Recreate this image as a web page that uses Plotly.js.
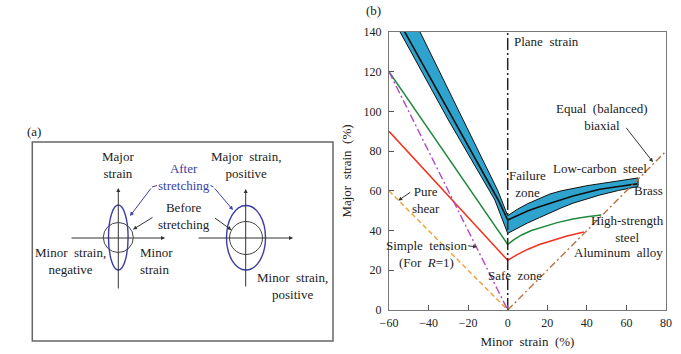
<!DOCTYPE html>
<html>
<head>
<meta charset="utf-8">
<script src="https://cdn.plot.ly/plotly-3.0.1.min.js"></script>
<style>html,body{margin:0;padding:0;background:#fff}</style>
</head>
<body>
<div id="chart" style="width:681px;height:354px"></div>
<script>
// ---------------- data: forming limit diagram (b) ----------------
const xTicks = [-60, -40, -20, 0, 20, 40, 60, 80];
const yTicks = [0, 20, 40, 60, 80, 100, 120, 140];

// Low-carbon steel band (upper and lower edges)
const lcsUpperX = [-49.2, -44.3, -22.5, -5.0, 0, 5, 10, 16, 21.3, 27, 33, 40, 46.6, 56, 65.9];
const lcsUpperY = [150, 140, 95.7, 60.1, 47.5, 50.8, 53.5, 56.2, 58.4, 60.0, 61.3, 62.6, 63.6, 65.0, 66.5];
const lcsLowerX = [-59.7, -54.4, -30, -6.5, 0, 5, 10, 16, 21.3, 27, 33, 40, 46.6, 56, 65.9];
const lcsLowerY = [150, 140, 95.7, 55.4, 38.6, 41.3, 43.8, 46.5, 48.7, 51.4, 53.8, 56.0, 57.9, 60.2, 62.2];

// Brass
const brassX = [-57.6, -52, -27.4, -4.8, 0, 5, 10, 16, 21.3, 27, 33, 40, 46.6, 56, 65.5];
const brassY = [150, 140, 95.7, 55.4, 45.3, 47.6, 49.8, 52.0, 53.7, 55.6, 57.4, 59.2, 60.8, 62.2, 63.5];

// High-strength steel
const hssX = [-60, 0, 3, 7, 12, 18, 25, 33, 40, 47.3];
const hssY = [120, 33, 35.3, 37.8, 40.0, 42.0, 44.0, 45.8, 47.0, 47.8];

// Aluminum alloy
const alX = [-60, 0, 5, 10, 16, 23, 30, 38.5];
const alY = [90, 25, 28.0, 30.5, 33.0, 35.3, 37.3, 39.3];

// Strain paths
const shearX = [-60, 0],   shearY = [60, 0];     // pure shear
const tensionX = [-60, 0], tensionY = [120, 0];  // simple tension (R=1)
const biaxialX = [0, 80],  biaxialY = [0, 80];   // equal biaxial
const planeX = [0, 0],     planeY = [0, 140];    // plane strain

// ---------------- traces ----------------
const bandX = lcsUpperX.concat(lcsLowerX.slice().reverse());
const bandY = lcsUpperY.concat(lcsLowerY.slice().reverse());

const traces = [
  {x: bandX, y: bandY, type: 'scatter', mode: 'lines', fill: 'toself',
   fillcolor: '#2ea3cd', line: {color: '#111', width: 1}, hoverinfo: 'skip'},
  {x: brassX, y: brassY, type: 'scatter', mode: 'lines', line: {color: '#111', width: 1.6}},
  {x: hssX, y: hssY, type: 'scatter', mode: 'lines', line: {color: '#1f8a3c', width: 1.5}},
  {x: alX, y: alY, type: 'scatter', mode: 'lines', line: {color: '#f2321e', width: 1.5}},
  {x: shearX, y: shearY, type: 'scatter', mode: 'lines', line: {color: '#f0a035', width: 1.4, dash: '5px,3px'}},
  {x: tensionX, y: tensionY, type: 'scatter', mode: 'lines', line: {color: '#b04ac4', width: 1.4, dash: '8px,3px,2px,3px'}},
  {x: biaxialX, y: biaxialY, type: 'scatter', mode: 'lines', line: {color: '#b8703e', width: 1.4, dash: '7px,3px,2px,3px'}},
  {x: planeX, y: planeY, type: 'scatter', mode: 'lines', line: {color: '#222', width: 1.5, dash: '12px,3px,2px,3px'}}
];

// ---------------- annotations ----------------
const SP = '\u00a0 ';
function lab(x, y, text, extra) {
  return Object.assign({x: x, y: y, xref: 'x', yref: 'y', text: text, showarrow: false,
    xanchor: 'center', yanchor: 'middle', align: 'center', font: {size: 13, color: '#222'}}, extra || {});
}
function labA(x, y, text, extra) {
  return lab(x, y, text, Object.assign({xref: 'x2', yref: 'y2'}, extra || {}));
}
function arrowB(x0, y0, x1, y1) {
  return {x: x1, y: y1, ax: x0, ay: y0, xref: 'x', yref: 'y', axref: 'x', ayref: 'y',
    text: '', showarrow: true, arrowhead: 2, arrowsize: 0.8, arrowwidth: 1, arrowcolor: '#333'};
}
function arrowA(x0, y0, x1, y1, color) {
  return {x: x1, y: y1, ax: x0, ay: y0, xref: 'x2', yref: 'y2', axref: 'x2', ayref: 'y2',
    text: '', showarrow: true, arrowhead: 2, arrowsize: 0.8,
    arrowwidth: 1, arrowcolor: color || '#333'};
}

const blue = '#3b3fa3';
const annotations = [
  // chart (b)
  lab(2.0, 135.1, 'Plane' + SP + 'strain', {xanchor: 'left'}),
  lab(47.6, 97.3, 'Equal' + SP + '(balanced)<br>biaxial'),
  arrowB(59.3, 92.5, 73.4, 74.5),
  lab(46.6, 71.3, 'Low-carbon' + SP + 'steel'),
  lab(9.75, 63.35, 'Failure<br>zone'),
  lab(71.1, 60.1, 'Brass'),
  lab(60.6, 41.0, 'High-strength<br>steel'),
  lab(56.0, 28.8, 'Aluminum' + SP + 'alloy'),
  lab(3.9, 17.6, 'Safe' + SP + 'zone'),
  lab(-41.3, 55.6, 'Pure<br>shear'),
  arrowB(-48.5, 59.8, -55.3, 55.1),
  lab(-40.8, 28.35, 'Simple' + SP + 'tension<br>(For' + SP + '<i>R</i>=1)'),
  arrowB(-20.8, 32.4, -15.5, 31.8),
  // panel labels
  labA(373, 10, '(b)'),
  labA(34, 131.7, '(a)'),
  // diagram (a) text
  labA(118, 164.75, 'Major<br>strain'),
  labA(184.2, 176.65, 'After<br>stretching', {font: {size: 13, color: blue}}),
  labA(184, 215.5, 'Before<br>stretching'),
  labA(70, 260.5, 'Minor' + SP + 'strain,<br>negative'),
  labA(138, 260.5, 'Minor<br>strain', {xanchor: 'left', align: 'left'}),
  labA(246, 164.7, 'Major' + SP + 'strain,<br>positive'),
  labA(292.7, 285.8, 'Minor' + SP + 'strain,<br>positive'),
  // diagram (a) axes arrows
  arrowA(70, 238, 165, 238),
  arrowA(118.3, 290, 118.3, 188),
  arrowA(197, 238, 293, 238),
  arrowA(245.7, 288, 245.7, 189),
  // diagram (a) callout arrows
  arrowA(152, 187, 130, 216, blue),
  arrowA(213.5, 187, 233, 210, blue),
  arrowA(154, 216.5, 133, 229.5),
  arrowA(213.5, 217, 231.5, 230)
];

// ---------------- shapes for diagram (a) ----------------
const shapes = [
  {type: 'rect', xref: 'x2', yref: 'y2', x0: 32.3, x1: 333, y0: 142, y1: 341,
   line: {color: '#666', width: 1.5}},
  {type: 'line', xref: 'x2', yref: 'y2', x0: 152, y0: 187, x1: 157, y1: 185.5, line: {color: blue, width: 1}},
  {type: 'line', xref: 'x2', yref: 'y2', x0: 210.5, y0: 185.5, x1: 213.5, y1: 187, line: {color: blue, width: 1}},
  {type: 'circle', xref: 'x2', yref: 'y2', x0: 103.3, x1: 133.3, y0: 222.5, y1: 252.5, line: {color: '#444', width: 1}},
  {type: 'circle', xref: 'x2', yref: 'y2', x0: 108.5, x1: 128.1, y0: 205, y1: 270, line: {color: blue, width: 1.4}},
  {type: 'circle', xref: 'x2', yref: 'y2', x0: 229.5, x1: 262.5, y0: 221.5, y1: 254.5, line: {color: '#444', width: 1}},
  {type: 'circle', xref: 'x2', yref: 'y2', x0: 226.5, x1: 265.5, y0: 205.5, y1: 270, line: {color: blue, width: 1.4}}
];

const axisCommon = {
  ticks: 'inside', ticklen: 5, tickwidth: 1, tickcolor: '#555',
  showline: true, mirror: true, linecolor: '#777', linewidth: 1.2,
  showgrid: false, zeroline: false, tickfont: {size: 12, color: '#222'}
};

const layout = {
  width: 681, height: 354,
  margin: {l: 0, r: 0, t: 0, b: 0},
  paper_bgcolor: '#fff', plot_bgcolor: 'rgba(0,0,0,0)',
  showlegend: false,
  font: {family: '"Liberation Serif", "DejaVu Serif", serif', size: 13, color: '#222'},
  xaxis: Object.assign({}, axisCommon, {
    domain: [389 / 681, 666 / 681], range: [-60, 80], tickvals: xTicks,
    ticklabelstandoff: 1,
    title: {text: 'Minor' + SP + 'strain' + SP + '(%)', font: {size: 13}, standoff: 8}
  }),
  yaxis: Object.assign({}, axisCommon, {
    domain: [44 / 354, 322 / 354], range: [0, 140], tickvals: yTicks,
    ticklabelstandoff: 4,
    title: {text: 'Major' + SP + 'strain' + SP + '(%)', font: {size: 13}, standoff: 8}
  }),
  xaxis2: {domain: [0, 1], range: [0, 681], visible: false, anchor: 'y2', fixedrange: true},
  yaxis2: {domain: [0, 1], range: [354, 0], visible: false, anchor: 'x2', fixedrange: true},
  annotations: annotations,
  shapes: shapes
};

Plotly.newPlot('chart', traces, layout, {staticPlot: true, displayModeBar: false});
</script>
</body>
</html>
